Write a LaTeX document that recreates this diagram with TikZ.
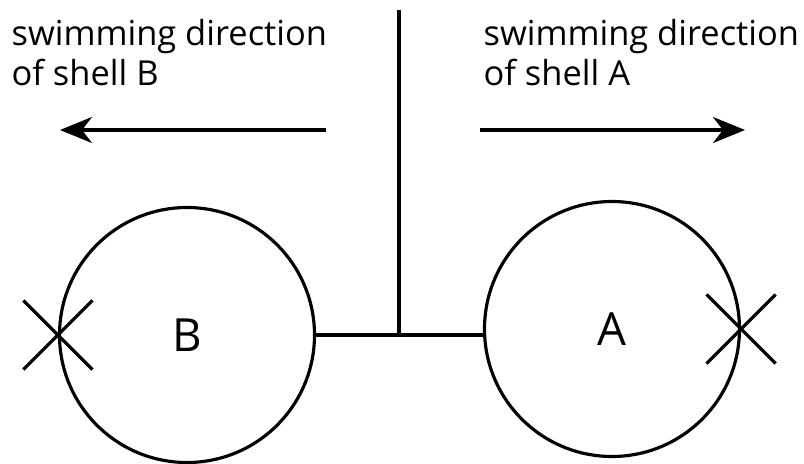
\documentclass[tikz,border=0pt]{standalone}
\usepackage{fontspec}
\setmainfont{Open Sans}
\usetikzlibrary{arrows.meta,shapes.misc}
\begin{document}
\begin{tikzpicture}[line width=.9pt,
  shell/.style={circle,draw,minimum size=2.55cm,inner sep=0pt,font=\fontsize{13}{15}\selectfont},
  crossmark/.style={cross out,draw,minimum size=.66cm,inner sep=0pt},
  swim/.style={-{Stealth[length=3.2mm,width=2.6mm,inset=1mm]}},
  heading/.style={anchor=base west,align=left,inner sep=0pt,font=\fontsize{9.8}{11.1}\selectfont}]
\useasboundingbox (0,0) rectangle (8.04,4.64);
\node[shell] (shellB) at (1.87,1.29) {B};
\node[shell] (shellA) at (6.12,1.35) {A};
\node[crossmark] (crossB) at (shellB.west) {};
\node[crossmark] (crossA) at (shellA.east) {};
\draw (shellB.east) -- (shellB.east -| shellA.west) coordinate[pos=.5] (joint);
\coordinate (top) at (3.99,4.54);
\draw (top) -- (top |- joint);
\node[heading] (textB) at (0.10,3.79) {swimming direction\\of shell B};
\node[heading] (textA) at (4.82,3.79) {swimming direction\\of shell A};
\coordinate (fromB) at (3.26,3.34); \coordinate (toB) at (0.60,3.34);
\coordinate (fromA) at (4.80,3.34); \coordinate (toA) at (7.45,3.34);
\draw[swim] (fromB) -- (toB);
\draw[swim] (fromA) -- (toA);
\end{tikzpicture}
\end{document}
